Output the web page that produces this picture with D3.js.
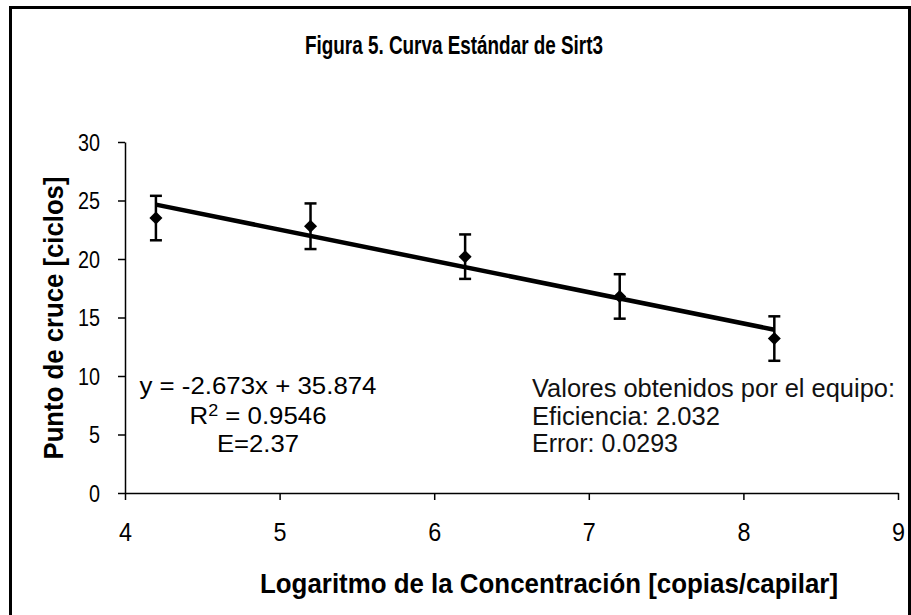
<!DOCTYPE html>
<html>
<head>
<meta charset="utf-8">
<script src="https://cdn.jsdelivr.net/npm/d3@7"></script>
<style>
  html, body { margin: 0; padding: 0; background: #fff; }
  svg { display: block; font-family: "Liberation Sans", Arial, sans-serif; }
</style>
</head>
<body>
<svg id="chart" width="911" height="615"></svg>
<script>
// ---- data ----
const xValues = [4.2, 5.2, 6.2, 7.2, 8.2];
const yValues = [23.5, 22.8, 20.2, 16.8, 13.2];
const errValues = [1.9, 1.95, 1.9, 1.9, 1.9];
const xTicks = [4, 5, 6, 7, 8, 9];
const yTicks = [0, 5, 10, 15, 20, 25, 30];
const trendSlope = -2.673;
const trendIntercept = 35.874;
const trendRange = [4.2, 8.2];
const titleText = "Figura 5. Curva Estándar de Sirt3";
const xTitle = "Logaritmo de la Concentración [copias/capilar]";
const yTitle = "Punto de cruce [ciclos]";
const eqLines = ["y = -2.673x + 35.874", "R2 = 0.9546", "E=2.37"];
const infoLines = ["Valores obtenidos por el equipo:", "Eficiencia: 2.032", "Error: 0.0293"];

const svg = d3.select("#chart");

// outer border (bottom edge runs off the canvas)
svg.append("path")
  .attr("d", "M10.5,620 V7.5 H909.5 V620")
  .attr("fill", "none").attr("stroke", "#000").attr("stroke-width", 3);

const x = d3.scaleLinear().domain([4, 9]).range([125, 898]);
const y = d3.scaleLinear().domain([0, 30]).range([493, 142]);

// title
svg.append("text")
  .attr("x", 454).attr("y", 54)
  .attr("text-anchor", "middle")
  .attr("font-size", 26).attr("font-weight", "bold")
  .attr("textLength", 298).attr("lengthAdjust", "spacingAndGlyphs")
  .text(titleText);

// axes
const yAxis = svg.append("g")
  .attr("transform", `translate(${x(4)},0)`)
  .call(d3.axisLeft(y).tickValues(yTicks).tickSize(7).tickPadding(18).tickSizeOuter(0));
yAxis.select(".domain").attr("stroke-width", 1.5);
yAxis.selectAll(".tick line").attr("stroke-width", 1.5);
yAxis.selectAll(".tick text")
  .attr("font-size", 23).attr("font-family", "Liberation Sans, Arial, sans-serif")
  .attr("dy", "0.36em")
  .attr("textLength", d => d >= 10 ? 22 : 11).attr("lengthAdjust", "spacingAndGlyphs")
  .attr("fill", "#000");

const xAxis = svg.append("g")
  .attr("transform", `translate(0,${y(0)})`)
  .call(d3.axisBottom(x).tickValues(xTicks).tickSize(7).tickSizeOuter(0).tickFormat(d3.format("d")));
xAxis.select(".domain").attr("stroke-width", 1.5);
xAxis.selectAll(".tick line").attr("stroke-width", 1.5);
xAxis.selectAll(".tick text")
  .attr("y", 48).attr("dy", 0)
  .attr("font-size", 26).attr("font-family", "Liberation Sans, Arial, sans-serif")
  .attr("textLength", 13).attr("lengthAdjust", "spacingAndGlyphs")
  .attr("fill", "#000");

// axis titles
svg.append("text")
  .attr("x", 549).attr("y", 593)
  .attr("text-anchor", "middle")
  .attr("font-size", 27).attr("font-weight", "bold")
  .attr("textLength", 578).attr("lengthAdjust", "spacingAndGlyphs")
  .text(xTitle);

svg.append("text")
  .attr("transform", `translate(63,318) rotate(-90)`)
  .attr("text-anchor", "middle")
  .attr("font-size", 27).attr("font-weight", "bold")
  .attr("textLength", 283).attr("lengthAdjust", "spacingAndGlyphs")
  .text(yTitle);

// trendline
svg.append("line")
  .attr("x1", x(trendRange[0])).attr("y1", y(trendSlope * trendRange[0] + trendIntercept))
  .attr("x2", x(trendRange[1])).attr("y2", y(trendSlope * trendRange[1] + trendIntercept))
  .attr("stroke", "#000").attr("stroke-width", 4.5);

// error bars
const pts = xValues.map((v, i) => ({ x: v, y: yValues[i], e: errValues[i] }));
const eb = svg.append("g").attr("stroke", "#000").attr("stroke-width", 2.5);
pts.forEach(p => {
  eb.append("line").attr("x1", x(p.x)).attr("x2", x(p.x))
    .attr("y1", y(p.y - p.e)).attr("y2", y(p.y + p.e));
  [p.y - p.e, p.y + p.e].forEach(v => {
    eb.append("line").attr("x1", x(p.x) - 6).attr("x2", x(p.x) + 6)
      .attr("y1", y(v)).attr("y2", y(v));
  });
});

// markers (diamonds)
svg.append("g").selectAll("path").data(pts).join("path")
  .attr("d", d3.symbol(d3.symbolSquare, 85))
  .attr("transform", d => `translate(${x(d.x)},${y(d.y)}) rotate(45)`)
  .attr("fill", "#000");

// equation block
const eqY = [394, 424, 452];
const eqW = [237, 137, 82];
const eqCx = 258;
eqLines.forEach((t, i) => {
  const tx = svg.append("text")
    .attr("x", eqCx).attr("y", eqY[i])
    .attr("text-anchor", "middle")
    .attr("font-size", 23)
    .attr("textLength", eqW[i]).attr("lengthAdjust", "spacingAndGlyphs");
  if (i === 1) {
    tx.append("tspan").text("R");
    tx.append("tspan").attr("font-size", 16).attr("dy", -8).text("2");
    tx.append("tspan").attr("dy", 8).text(" = 0.9546");
  } else {
    tx.text(t);
  }
});

// info block
const infoY = [397, 425, 452];
const infoW = [363, 188, 146];
infoLines.forEach((t, i) => {
  svg.append("text")
    .attr("x", 532).attr("y", infoY[i])
    .attr("font-size", 25)
    .attr("textLength", infoW[i]).attr("lengthAdjust", "spacingAndGlyphs")
    .attr("fill", "#111")
    .text(t);
});
</script>
</body>
</html>
